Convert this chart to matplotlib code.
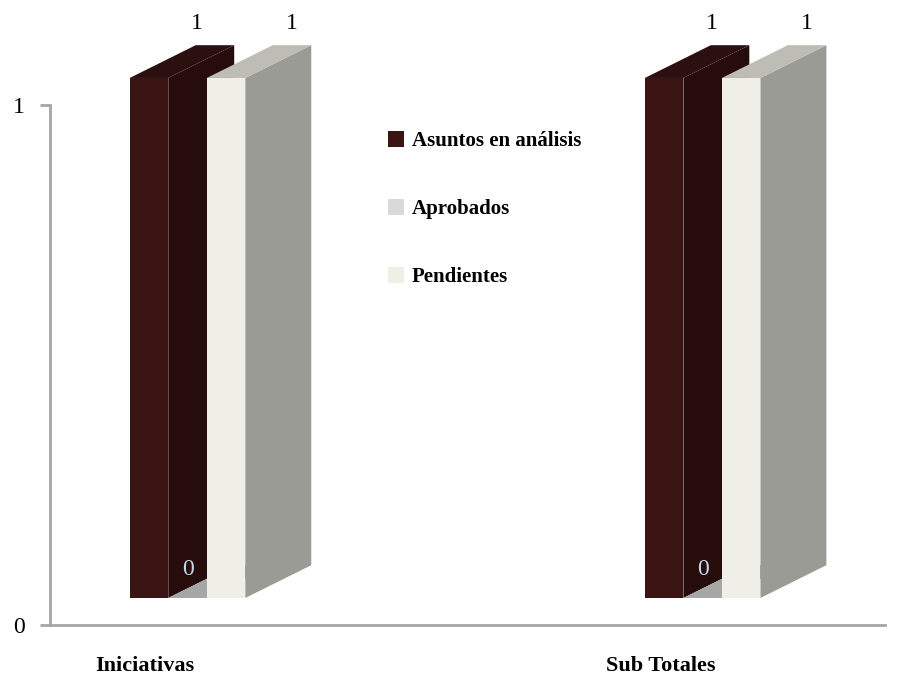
import matplotlib.pyplot as plt
from matplotlib.patches import Polygon, Patch
from matplotlib.transforms import blended_transform_factory

categories = ['Iniciativas', 'Sub Totales']
series = ['Asuntos en análisis', 'Aprobados', 'Pendientes']
values = [[1, 0, 1],
          [1, 0, 1]]
y_ticks = [0, 1]

front_colors = ['#3b1414', '#d9d9d9', '#efefe7']
side_colors = ['#270c0c', '#8c8c8c', '#9b9b96']
top_colors = ['#2c0f0f', '#a6a6a6', '#bdbdb6']
label_colors = ['black', '#c6d7ec', 'black']

w = 0.0748       # bar width (x units)
dx, dy = 0.128, 0.063   # 3d depth offset
base = 0.052     # front face sits a bit above the axis


def draw_bar(ax, x0, h, i):
    x1 = x0 + w
    b, t = base, base + h
    kw = dict(clip_on=False, linewidth=0)
    if h > 0:
        ax.add_patch(Polygon([(x1, b), (x1 + dx, b + dy), (x1 + dx, t + dy), (x1, t)],
                             facecolor=side_colors[i], **kw))
        ax.add_patch(Polygon([(x0, b), (x1, b), (x1, t), (x0, t)],
                             facecolor=front_colors[i], **kw))
    ax.add_patch(Polygon([(x0, t), (x1, t), (x1 + dx, t + dy), (x0 + dx, t + dy)],
                         facecolor=top_colors[i], **kw))


fig = plt.figure(figsize=(9, 6.81), dpi=100)
ax = fig.add_axes([50 / 900, 56 / 681, 835 / 900, 520 / 681])
ax.set_xlim(-0.267, 1.354)
ax.set_ylim(0, 1)

for c, cat in enumerate(categories):
    for i, s in enumerate(series):
        x0 = c + (i - 1) * w - w / 2
        h = values[c][i]
        draw_bar(ax, x0, h, i)
        xc = x0 + w / 2
        if h > 0:
            shift = -0.035 if i == 0 else 0
            ax.text(xc + dx + shift, base + h + dy + 0.022, str(h), ha='center', va='bottom',
                    fontsize=17, family='Liberation Serif', color=label_colors[i])
        else:
            ax.text(xc, base + 0.055, str(h), ha='center', va='center',
                    fontsize=17, family='Liberation Serif', color=label_colors[i])

trans = blended_transform_factory(ax.transData, ax.transAxes)
for c, cat in enumerate(categories):
    ax.text(c - 0.082, -0.079, cat, transform=trans, ha='center', va='center',
            fontsize=16, family='Liberation Serif', fontweight='bold')

for s in ['top', 'right']:
    ax.spines[s].set_visible(False)
for s in ['left', 'bottom']:
    ax.spines[s].set_color('#a6a6a6')
    ax.spines[s].set_linewidth(2)
ax.set_xticks([])
ax.set_yticks(y_ticks)
ax.set_yticklabels([str(v) for v in y_ticks], fontsize=17, family='Liberation Serif')
ax.tick_params(axis='y', length=7, width=2, color='#a6a6a6', pad=11)

handles = [Patch(facecolor=front_colors[i], edgecolor='none') for i in range(3)]
leg = fig.legend(handles, series, loc='upper left', bbox_to_anchor=(369 / 900, 1 - 112 / 681),
                 frameon=False, handlelength=0.8, handleheight=0.8, handletextpad=0.35,
                 labelspacing=2.3, prop=dict(family='Liberation Serif',
                                             weight='bold', size=15))

fig.savefig('out.png', dpi=100)
